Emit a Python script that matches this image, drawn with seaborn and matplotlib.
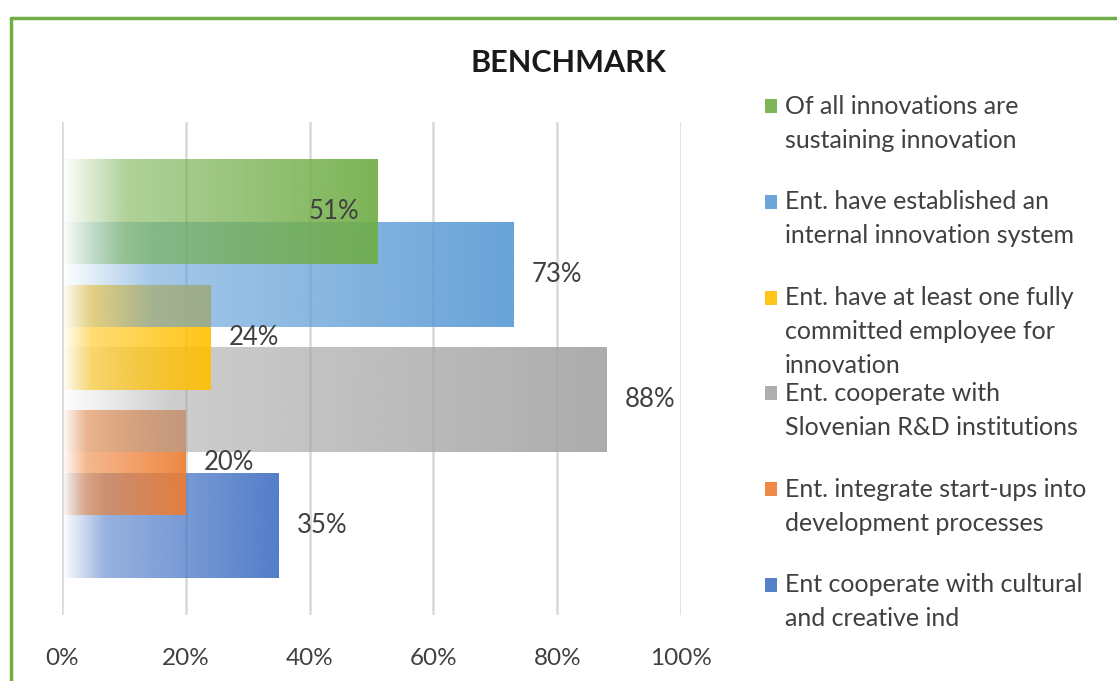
import numpy as np
import pandas as pd
import seaborn as sns
import matplotlib.pyplot as plt
from matplotlib.colors import to_rgb
from matplotlib.patches import Rectangle
from matplotlib.lines import Line2D

# data
series = [
    "Of all innovations are\nsustaining innovation",
    "Ent. have established an\ninternal innovation system",
    "Ent. have at least one fully\ncommitted employee for\ninnovation",
    "Ent. cooperate with\nSlovenian R&D institutions",
    "Ent. integrate start-ups into\ndevelopment processes",
    "Ent cooperate with cultural\nand creative ind",
]
values = [51, 73, 24, 88, 20, 35]
colors = ["#70AD47", "#5B9BD5", "#FFC000", "#A5A5A5", "#ED7D31", "#4472C4"]
ticks = [0, 20, 40, 60, 80, 100]

df = pd.DataFrame({"series": series, "value": values})

sns.set_style("white")
plt.rcParams["font.family"] = ["Lato", "DejaVu Sans"]
txt = "#404040"

W, H = 1117, 681
fig = plt.figure(figsize=(W / 100, H / 100), dpi=100)
ax = fig.add_axes([62 / W, 1 - 615 / H, 619 / W, 493 / H])

sns.barplot(data=df, x="value", y="series", hue="series", palette=colors,
            order=series, hue_order=series, width=1.67, orient="h",
            legend=False, ax=ax)

# replace flat fills with a left-to-right fade
n = 256
t = np.linspace(0, 1, n)
alpha = np.where(t < 0.2, t / 0.2 * 0.6, 0.6 + 0.4 * (t - 0.2) / 0.8) * 0.92
for i, p in enumerate(ax.patches[:len(series)]):
    x0, y0, w, h = p.get_x(), p.get_y(), p.get_width(), p.get_height()
    img = np.zeros((2, n, 4))
    img[..., :3] = to_rgb(colors[i])
    img[..., 3] = alpha
    ax.imshow(img, extent=(x0, x0 + w, y0 + h, y0), aspect="auto",
              interpolation="bilinear", zorder=10 - i)
    p.set_facecolor("none")
    p.set_edgecolor("none")

# value labels
for i, v in enumerate(values):
    xl = v - 7 if i == 0 else v + 7
    ax.text(xl, i, f"{v}%", ha="center", va="center", fontsize=18.5,
            color=txt, zorder=20)

ax.set_xlim(0, 100)
ax.set_ylim(len(series) - 1 + 1.43, -1.43)
ax.set_xticks(ticks)
ax.set_xticklabels([f"{v}%" for v in ticks], fontsize=17.5, color=txt)
ax.tick_params(axis="x", length=0, pad=24)
ax.set_yticks([])
ax.set_xlabel("")
ax.set_ylabel("")
ax.xaxis.grid(True, color="#d9d9d9", lw=1.8)
ax.set_axisbelow(True)
for s in ax.spines.values():
    s.set_visible(False)

fig.text(568 / W, 1 - 63 / H, "BENCHMARK", ha="center", va="center",
         fontsize=22, fontweight="bold", color="#1a1a1a")

# legend drawn by hand so every entry keeps the same pitch
for i, lab in enumerate(series):
    yc = 106 + i * 95.8
    fig.patches.append(Rectangle((765 / W, 1 - (yc + 7) / H), 12 / W, 14 / H,
                                 transform=fig.transFigure, color=colors[i],
                                 alpha=0.9, lw=0))
    for k, line in enumerate(lab.split("\n")):
        fig.text(785 / W, 1 - (yc + k * 34) / H, line, ha="left", va="center",
                 fontsize=18, color=txt)

# green frame
fig.lines.append(Line2D([11 / W, 11 / W], [0, 1 - 18 / H],
                        transform=fig.transFigure, color="#70AD47", lw=2.5))
fig.lines.append(Line2D([11 / W, 1], [1 - 18 / H, 1 - 18 / H],
                        transform=fig.transFigure, color="#70AD47", lw=2.5))

fig.savefig("out.png", dpi=100)
